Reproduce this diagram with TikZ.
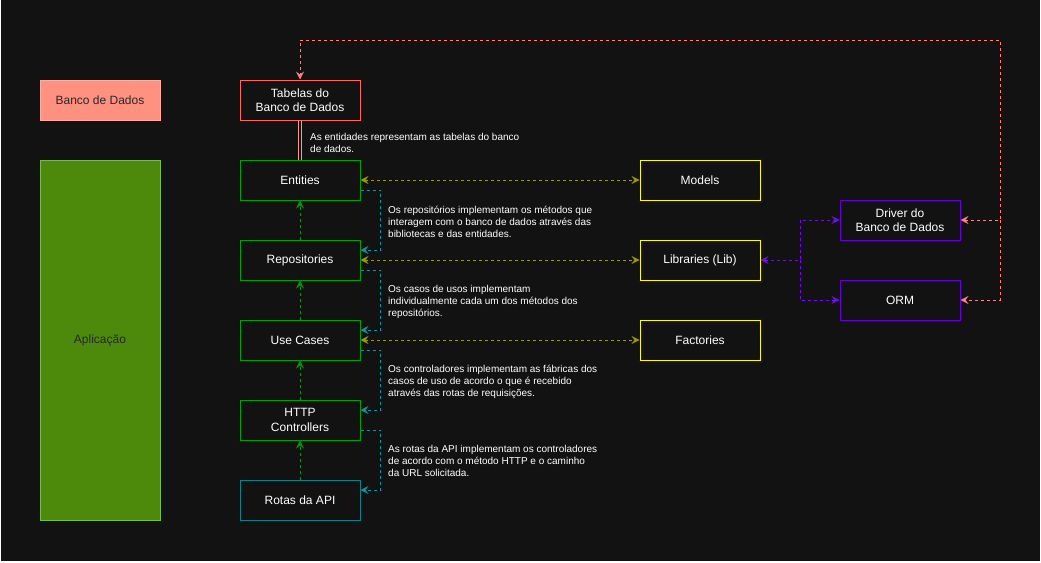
\documentclass[tikz,border=0pt]{standalone}
\usepackage{fontspec}
\setmainfont{Liberation Sans}
\usepackage{tikz}
\usetikzlibrary{positioning}
\usetikzlibrary{arrows,arrows.meta,shapes}
\usetikzlibrary{calc}
\definecolor{bgdark}{RGB}{18,18,18}
\definecolor{dbfill}{RGB}{255,145,128}
\definecolor{dbline}{RGB}{255,172,162}
\definecolor{appfill}{RGB}{77,138,12}
\definecolor{appline}{RGB}{122,186,76}
\definecolor{tabline}{RGB}{255,102,102}
\definecolor{layerline}{RGB}{0,160,0}
\definecolor{apiline}{RGB}{14,128,136}
\definecolor{libline}{RGB}{255,255,0}
\definecolor{drvline}{RGB}{102,0,204}
\definecolor{redlink}{RGB}{255,128,128}
\definecolor{greenlink}{RGB}{0,153,0}
\definecolor{teallink}{RGB}{16,145,155}
\definecolor{olivelink}{RGB}{153,153,0}
\definecolor{purplelink}{RGB}{112,16,224}
\definecolor{pinklink}{RGB}{255,150,150}
\definecolor{legendtext}{RGB}{40,40,40}
\tikzstyle{box}=[rectangle,draw,line width=1pt,minimum width=120pt,minimum height=40pt,inner sep=0pt,align=center,text=white,font=\fontsize{12}{14.5}\selectfont]
\tikzstyle{legend}=[box,text=legendtext]
\tikzstyle{note}=[anchor=west,inner sep=0pt,align=left,text=white,font=\fontsize{10}{12}\selectfont]
\tikzstyle{link}=[line width=1pt,dash pattern=on 3pt off 3pt]

\begin{document}
\begin{tikzpicture}[x=1pt,y=-1pt,>={Stealth[length=8pt,width=8pt,inset=3pt]}]
    % canvas
    \fill[white] (0,0) rectangle (1041,562);
    \fill[bgdark] (1,0) rectangle (1040,561);

    % legend on the left
    \node[legend,draw=dbline,fill=dbfill] (db) at (100,100) {Banco de Dados};
    \node[legend,draw=appline,fill=appfill,minimum height=360pt] (app) at (100,340) {Aplicação};

    % application layers
    \node[box,draw=tabline] (tab) at (300,100) {Tabelas do\\Banco de Dados};
    \foreach \pos/\name/\label in {{(300,180)/ent/Entities}, {(300,260)/rep/Repositories}, {(300,340)/uc/Use Cases}, {(300,420)/http/HTTP\\Controllers}}
            \node[box,draw=layerline] (\name) at \pos {\label};
    \node[box,draw=apiline] (api) at (300,500) {Rotas da API};

    % helpers and drivers
    \foreach \pos/\name/\label in {{(700,180)/mod/Models}, {(700,260)/lib/Libraries (Lib)}, {(700,340)/fac/Factories}}
            \node[box,draw=libline] (\name) at \pos {\label};
    \node[box,draw=drvline] (drv) at (900,220) {Driver do\\Banco de Dados};
    \node[box,draw=drvline] (orm) at (900,300) {ORM};

    % notes
    \node[note] (n1) at (310,143) {As entidades representam as tabelas do banco\\de dados.};
    \node[note] (n2) at (388,222) {Os repositórios implementam os métodos que\\interagem com o banco de dados através das\\bibliotecas e das entidades.};
    \node[note] (n3) at (388,302) {Os casos de usos implementam\\individualmente cada um dos métodos dos\\repositórios.};
    \node[note] (n4) at (388,382) {Os controladores implementam as fábricas dos\\casos de uso de acordo o que é recebido\\através das rotas de requisições.};
    \node[note] (n5) at (388,461) {As rotas da API implementam os controladores\\de acordo com o método HTTP e o caminho\\da URL solicitada.};

    % connectors
    \draw[line width=0.9pt,draw=pinklink,double=bgdark,double distance=2.6pt] (tab) -- (ent);

    \foreach \source/\dest in {rep/ent, uc/rep, http/uc, api/http}
        \draw[link,greenlink,->] (\source) -- (\dest);

    \foreach \source/\dest in {ent/rep, rep/uc, uc/http, http/api}
        \draw[link,teallink,->] ([yshift=-10pt]\source.east) -- ++(20,0) |- ([yshift=10pt]\dest.east);

    \foreach \source/\dest in {ent/mod, rep/lib, uc/fac}
        \draw[link,olivelink,<->] (\source) -- (\dest);

    \coordinate (pjoin) at (800,260);
    \draw[link,purplelink,<->] (lib.east) -- (pjoin) |- (drv.west);
    \draw[link,purplelink,->] (pjoin) |- (orm.west);

    \coordinate (rtop) at (1000,40);
    \coordinate (rjoin) at (1000,220);
    \draw[link,redlink,<->] (drv.east) -- (rjoin) -- (rtop) -| (tab.north);
    \draw[link,redlink,->] (rjoin) |- (orm.east);
\end{tikzpicture}
\end{document}
